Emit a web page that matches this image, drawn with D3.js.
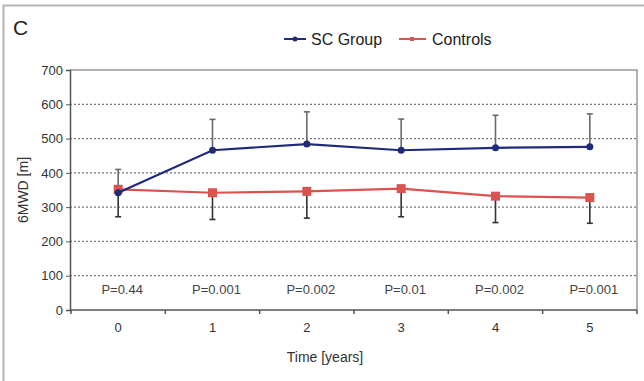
<!DOCTYPE html>
<html><head><meta charset="utf-8">
<script src="https://cdn.jsdelivr.net/npm/d3@7"></script>
<style>body{margin:0;background:#fff}svg{display:block;font-family:"Liberation Sans",Arial,sans-serif}</style>
</head><body><div id="chart"></div>
<script>
const years = ["0","1","2","3","4","5"];
const scMean = [342, 466, 484, 466, 473, 476];
const scSD = [68, 90, 94, 91, 95, 96];
const ctrlMean = [352, 342, 346, 354, 332, 328];
const ctrlSD = [80, 78, 78, 82, 77, 75];
const pValues = ["P=0.44","P=0.001","P=0.002","P=0.01","P=0.002","P=0.001"];
const yTicks = [0,100,200,300,400,500,600,700];

const W = 644, H = 381;
const svg = d3.select("#chart").append("svg").attr("width", W).attr("height", H);
const m = {l: 70, r: 637, t: 70, b: 310};

// outer frame
svg.append("rect").attr("x", 3.5).attr("y", 5.5).attr("width", 660).attr("height", 400)
  .attr("fill", "none").attr("stroke", "#b5b5b5").attr("stroke-width", 2);

const x = d3.scaleBand().domain(years).range([m.l + 1, m.r]);
const y = d3.scaleLinear().domain([0, 700]).range([m.b, m.t]);
const cx = d => x(d) + x.bandwidth() / 2;

// grid
svg.append("g").selectAll("line").data(yTicks.filter(v => v > 0 && v < 700)).join("line")
  .attr("x1", m.l).attr("x2", m.r).attr("y1", d => y(d)).attr("y2", d => y(d))
  .attr("stroke", "#777").attr("stroke-width", 1.2).attr("stroke-dasharray", "2,2");
// top & right border
svg.append("path").attr("d", `M${m.l},${y(700)}H${m.r}V${y(0)}`)
  .attr("fill", "none").attr("stroke", "#999").attr("stroke-width", 1.5);

// y axis
const ya = svg.append("g").attr("transform", `translate(${m.l},0)`)
  .call(d3.axisLeft(y).tickValues(yTicks).tickSize(4).tickPadding(3));
ya.select(".domain").attr("stroke", "#555").attr("stroke-width", 1.5);
ya.selectAll(".tick line").attr("stroke", "#555");
ya.selectAll("text").attr("font-size", 13).attr("fill", "#333");

// x axis
const xa = svg.append("g").attr("transform", `translate(0,${m.b})`);
xa.append("line").attr("x1", m.l).attr("x2", m.r).attr("stroke", "#555").attr("stroke-width", 1.5);
const bounds = years.map(d => x(d)).concat([m.r]);
xa.selectAll("line.tk").data(bounds).join("line").attr("class", "tk")
  .attr("x1", d => d).attr("x2", d => d).attr("y1", 0).attr("y2", 4).attr("stroke", "#555").attr("stroke-width", 1.5);
xa.selectAll("text").data(years).join("text").attr("x", d => cx(d)).attr("y", 22)
  .attr("text-anchor", "middle").attr("font-size", 13).attr("fill", "#333").text(d => d);

// error bars
function errBars(mean, sd, dir, color) {
  const g = svg.append("g").attr("stroke", color).attr("stroke-width", 1.6);
  years.forEach((d, i) => {
    const x0 = cx(d), y1 = y(mean[i]), y2 = y(mean[i] + dir * sd[i]);
    g.append("line").attr("x1", x0).attr("x2", x0).attr("y1", y1).attr("y2", y2);
    g.append("line").attr("x1", x0 - 3).attr("x2", x0 + 3).attr("y1", y2).attr("y2", y2);
  });
}
errBars(scMean, scSD, 1, "#6a6a6a");
errBars(ctrlMean, ctrlSD, -1, "#333");

const line = d3.line().x((d, i) => cx(years[i])).y(d => y(d));
svg.append("path").datum(ctrlMean).attr("d", line).attr("fill", "none").attr("stroke", "#d9534f").attr("stroke-width", 2.2);
svg.append("g").selectAll("rect").data(ctrlMean).join("rect")
  .attr("x", (d, i) => cx(years[i]) - 4.5).attr("y", d => y(d) - 4.5).attr("width", 9).attr("height", 9).attr("fill", "#d9534f");
svg.append("path").datum(scMean).attr("d", line).attr("fill", "none").attr("stroke", "#1f2a7a").attr("stroke-width", 2.2);
svg.append("g").selectAll("circle").data(scMean).join("circle")
  .attr("cx", (d, i) => cx(years[i])).attr("cy", d => y(d)).attr("r", 3.5).attr("fill", "#1f2a7a");

// p values
svg.append("g").selectAll("text").data(pValues).join("text")
  .attr("x", (d, i) => cx(years[i]) + 4).attr("y", 294).attr("text-anchor", "middle")
  .attr("font-size", 13).attr("fill", "#444").text(d => d);

// labels
svg.append("text").attr("x", 13).attr("y", 35).attr("font-size", 21).attr("fill", "#222").text("C");
svg.append("text").attr("transform", "translate(28,190) rotate(-90)").attr("text-anchor", "middle")
  .attr("font-size", 14).attr("fill", "#333").text("6MWD  [m]");
svg.append("text").attr("x", 325).attr("y", 362).attr("text-anchor", "middle")
  .attr("font-size", 14).attr("fill", "#333").text("Time [years]");

// legend
const lg = svg.append("g");
lg.append("line").attr("x1", 284).attr("x2", 306).attr("y1", 39).attr("y2", 39).attr("stroke", "#1f2a7a").attr("stroke-width", 2);
lg.append("circle").attr("cx", 295).attr("cy", 39).attr("r", 2.5).attr("fill", "#1f2a7a");
lg.append("text").attr("x", 311).attr("y", 45).attr("font-size", 16).attr("fill", "#222").text("SC Group");
lg.append("line").attr("x1", 399).attr("x2", 426).attr("y1", 39).attr("y2", 39).attr("stroke", "#d9534f").attr("stroke-width", 2);
lg.append("rect").attr("x", 410).attr("y", 37).attr("width", 4).attr("height", 4).attr("fill", "#d9534f");
lg.append("text").attr("x", 432).attr("y", 45).attr("font-size", 16).attr("fill", "#222").text("Controls");
</script></body></html>
